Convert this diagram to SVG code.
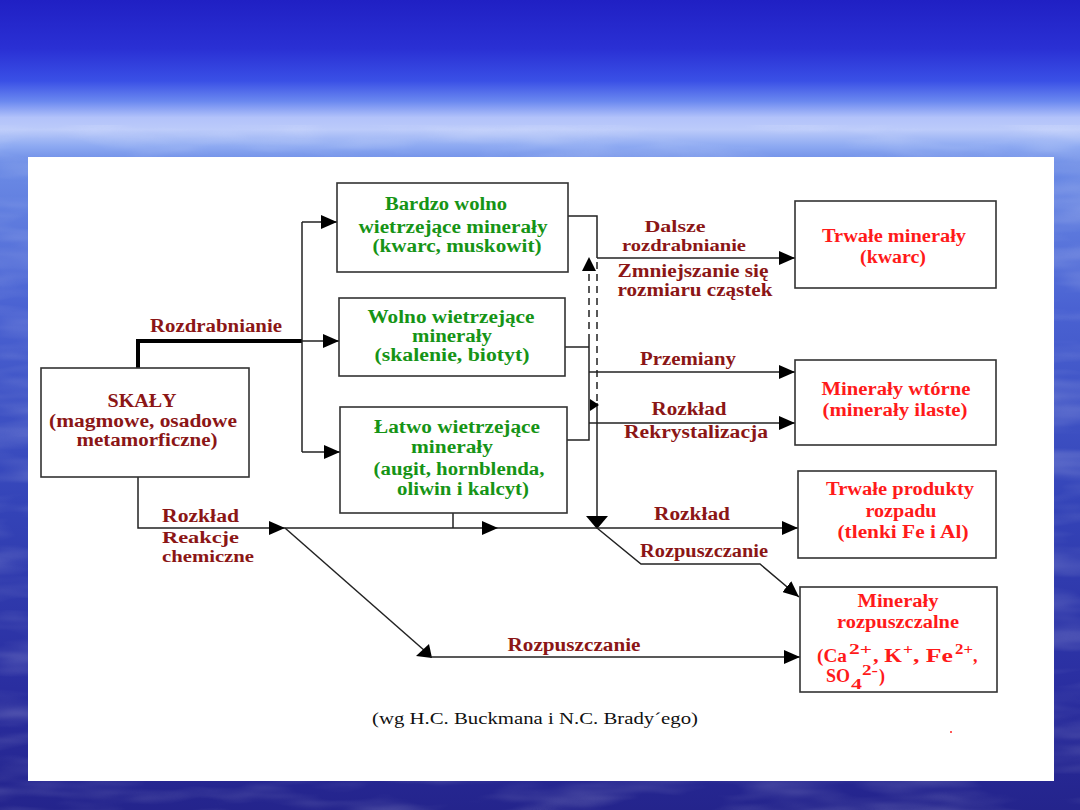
<svg xmlns="http://www.w3.org/2000/svg" width="1080" height="810" viewBox="0 0 1080 810">
<defs>
<linearGradient id="sky" x1="0" y1="0" x2="0" y2="1">
<stop offset="0" stop-color="#2020c4"/>
<stop offset="0.06" stop-color="#2a30d4"/>
<stop offset="0.10" stop-color="#3a50e6"/>
<stop offset="0.125" stop-color="#6a88f0"/>
<stop offset="0.145" stop-color="#b2c2fa"/>
<stop offset="0.16" stop-color="#bccbfa"/>
<stop offset="0.18" stop-color="#8eaaf2"/>
<stop offset="0.20" stop-color="#6c8ce6"/>
<stop offset="0.38" stop-color="#4a62d2"/>
<stop offset="0.62" stop-color="#3444b8"/>
<stop offset="0.85" stop-color="#2a2ea0"/>
<stop offset="1" stop-color="#24248c"/>
</linearGradient>
<filter id="clouds" x="0" y="0" width="100%" height="100%">
<feTurbulence type="fractalNoise" baseFrequency="0.008 0.04" numOctaves="3" seed="4"/>
<feColorMatrix type="matrix" values="0 0 0 0 1  0 0 0 0 1  0 0 0 0 1  1.4 0 0 0 -0.6"/>
</filter>
<marker id="ah" markerUnits="userSpaceOnUse" markerWidth="16" markerHeight="14" refX="16" refY="7" orient="auto">
<path d="M0,0 L16,7 L0,14 Z" fill="#000"/>
</marker>
<style>
.box{fill:#fff;stroke:#333;stroke-width:1.6}
.ln{fill:none;stroke:#222;stroke-width:1.5}
.dash{fill:none;stroke:#222;stroke-width:1.5;stroke-dasharray:7 5}
.thick{fill:none;stroke:#000;stroke-width:4}
.arr{marker-end:url(#ah)}
text{font-family:"Liberation Serif","Times New Roman",serif;font-weight:bold;font-size:18px}
.m{fill:#8b1616}
.g{fill:#169416}
.r{fill:#ff1a1a}
.c{text-anchor:middle}
.s{font-size:16px}
.sup{font-size:14px}
.k{fill:#111;font-weight:normal;font-size:16px}
</style>
</defs>
<g id="background">
<rect x="0" y="0" width="1080" height="810" fill="url(#sky)"/>
<rect x="0" y="125" width="1080" height="685" filter="url(#clouds)" opacity="0.3"/>
<rect x="28" y="157" width="1026" height="624" fill="#fff"/>
</g>
<g id="connectors">
<path class="thick" d="M138,368 V341 H302"/>
<path class="ln" d="M302,222 V452"/>
<path class="ln arr" d="M302,222 H337"/>
<path class="ln arr" d="M302,341 H339"/>
<path class="ln arr" d="M302,452 H340"/>
<path class="ln" d="M568,216 H597 V258"/>
<path class="ln arr" d="M597,258 H795"/>
<path class="dash" d="M597,262 V403"/>
<path class="ln" d="M597,403 V518"/>
<polygon points="586,516 608,516 597,529" fill="#000"/>
<path class="ln" d="M565,347 H589"/>
<path class="ln" d="M567,440 H589 V341"/>
<path class="dash" d="M589,341 V270"/>
<polygon points="582,271 596,271 589,257" fill="#000"/>
<polygon points="590,399 599,405 590,411" fill="#000"/>
<path class="ln arr" d="M589,372 H795"/>
<path class="ln arr" d="M589,423 H795"/>
<path class="ln arr" d="M138,477 V528 H285"/>
<path class="ln arr" d="M285,528 H498"/>
<path class="ln arr" d="M498,528 H798"/>
<path class="ln" d="M453,513 V528"/>
<path class="ln" d="M285,528 L425,651"/>
<polygon points="416,656 429,644 432,658" fill="#000"/>
<path class="ln arr" d="M430,657 H800"/>
<path class="ln arr" d="M597,528 L641,564 H760 L799,597"/>
</g>
<g id="label-rozdrabnianie"><text class="m c" x="216" y="332" textLength="132" lengthAdjust="spacingAndGlyphs">Rozdrabnianie</text></g>
<g id="node-skaly">
<rect class="box" x="41" y="368" width="208" height="109"/>
<text class="m c" x="142" y="407" textLength="69" lengthAdjust="spacingAndGlyphs">SKAŁY</text>
<text class="m c" x="143" y="427" textLength="188" lengthAdjust="spacingAndGlyphs">(magmowe, osadowe</text>
<text class="m c" x="147" y="446" textLength="141" lengthAdjust="spacingAndGlyphs">metamorficzne)</text>
</g>
<g id="node-bardzo">
<rect class="box" x="337" y="183" width="231" height="89"/>
<text class="g c" x="446" y="210" textLength="122" lengthAdjust="spacingAndGlyphs">Bardzo wolno</text>
<text class="g c" x="453" y="233" textLength="189" lengthAdjust="spacingAndGlyphs">wietrzejące minerały</text>
<text class="g c" x="457" y="252" textLength="169" lengthAdjust="spacingAndGlyphs">(kwarc, muskowit)</text>
</g>
<g id="node-wolno">
<rect class="box" x="339" y="298" width="226" height="78"/>
<text class="g c" x="451" y="323" textLength="167" lengthAdjust="spacingAndGlyphs">Wolno wietrzejące</text>
<text class="g c" x="452" y="342" textLength="80" lengthAdjust="spacingAndGlyphs">minerały</text>
<text class="g c" x="452" y="361" textLength="155" lengthAdjust="spacingAndGlyphs">(skalenie, biotyt)</text>
</g>
<g id="node-latwo">
<rect class="box" x="340" y="407" width="227" height="106"/>
<text class="g c" x="457" y="433" textLength="166" lengthAdjust="spacingAndGlyphs">Łatwo wietrzejące</text>
<text class="g c" x="452" y="453" textLength="82" lengthAdjust="spacingAndGlyphs">minerały</text>
<text class="g c" x="459" y="475" textLength="171" lengthAdjust="spacingAndGlyphs">(augit, hornblenda,</text>
<text class="g c" x="463" y="495" textLength="132" lengthAdjust="spacingAndGlyphs">oliwin i kalcyt)</text>
</g>
<g id="node-trwale-mineraly">
<rect class="box" x="795" y="201" width="201" height="87"/>
<text class="r c" x="894" y="242" textLength="144" lengthAdjust="spacingAndGlyphs">Trwałe minerały</text>
<text class="r c" x="893" y="263" textLength="66" lengthAdjust="spacingAndGlyphs">(kwarc)</text>
</g>
<g id="node-wtorne">
<rect class="box" x="795" y="360" width="201" height="85"/>
<text class="r c" x="896" y="395" textLength="149" lengthAdjust="spacingAndGlyphs">Minerały wtórne</text>
<text class="r c" x="895" y="416" textLength="145" lengthAdjust="spacingAndGlyphs">(minerały ilaste)</text>
</g>
<g id="node-produkty">
<rect class="box" x="798" y="471" width="198" height="87"/>
<text class="r c" x="900" y="495" textLength="148" lengthAdjust="spacingAndGlyphs">Trwałe produkty</text>
<text class="r c" x="901" y="517" textLength="71" lengthAdjust="spacingAndGlyphs">rozpadu</text>
<text class="r c" x="903" y="538" textLength="131" lengthAdjust="spacingAndGlyphs">(tlenki Fe i Al)</text>
</g>
<g id="node-rozpuszczalne">
<rect class="box" x="800" y="587" width="197" height="105"/>
<text class="r c" x="898" y="607" textLength="81" lengthAdjust="spacingAndGlyphs">Minerały</text>
<text class="r c" x="898" y="628" textLength="122" lengthAdjust="spacingAndGlyphs">rozpuszczalne</text>
<text class="r" x="817" y="662" textLength="30" lengthAdjust="spacingAndGlyphs">(Ca</text>
<text class="r sup" x="849" y="654" textLength="23" lengthAdjust="spacingAndGlyphs">2+</text>
<text class="r" x="873" y="662" textLength="29" lengthAdjust="spacingAndGlyphs">, K</text>
<text class="r sup" x="903" y="654" textLength="10" lengthAdjust="spacingAndGlyphs">+</text>
<text class="r" x="913" y="662" textLength="40" lengthAdjust="spacingAndGlyphs">, Fe</text>
<text class="r sup" x="955" y="654" textLength="18" lengthAdjust="spacingAndGlyphs">2+</text>
<text class="r" x="973" y="662">,</text>
<text class="r" x="826" y="682" textLength="24" lengthAdjust="spacingAndGlyphs">SO</text>
<text class="r sup" x="851" y="689" textLength="11" lengthAdjust="spacingAndGlyphs">4</text>
<text class="r sup" x="862" y="675" textLength="16" lengthAdjust="spacingAndGlyphs">2-</text>
<text class="r" x="879" y="682">)</text>
</g>
<g id="labels">
<text class="m c s" x="675" y="232" textLength="61" lengthAdjust="spacingAndGlyphs">Dalsze</text>
<text class="m c s" x="684" y="251" textLength="124" lengthAdjust="spacingAndGlyphs">rozdrabnianie</text>
<text class="m c" x="693" y="277" textLength="151" lengthAdjust="spacingAndGlyphs">Zmniejszanie się</text>
<text class="m c" x="695" y="296" textLength="155" lengthAdjust="spacingAndGlyphs">rozmiaru cząstek</text>
<text class="m c" x="688" y="365" textLength="96" lengthAdjust="spacingAndGlyphs">Przemiany</text>
<text class="m c" x="689" y="415" textLength="75" lengthAdjust="spacingAndGlyphs">Rozkład</text>
<text class="m c" x="696" y="438" textLength="144" lengthAdjust="spacingAndGlyphs">Rekrystalizacja</text>
<text class="m c" x="692" y="520" textLength="76" lengthAdjust="spacingAndGlyphs">Rozkład</text>
<text class="m c" x="704" y="557" textLength="128" lengthAdjust="spacingAndGlyphs">Rozpuszczanie</text>
<text class="m" x="162" y="522" textLength="77" lengthAdjust="spacingAndGlyphs">Rozkład</text>
<text class="m s" x="162" y="543" textLength="77" lengthAdjust="spacingAndGlyphs">Reakcje</text>
<text class="m s" x="162" y="562" textLength="92" lengthAdjust="spacingAndGlyphs">chemiczne</text>
<text class="m c" x="574" y="651" textLength="133" lengthAdjust="spacingAndGlyphs">Rozpuszczanie</text>
<text class="k c" x="535" y="724" textLength="326" lengthAdjust="spacingAndGlyphs">(wg H.C. Buckmana i N.C. Brady´ego)</text>
</g>
<circle cx="951" cy="732" r="1" fill="#ff2020"/>
</svg>
